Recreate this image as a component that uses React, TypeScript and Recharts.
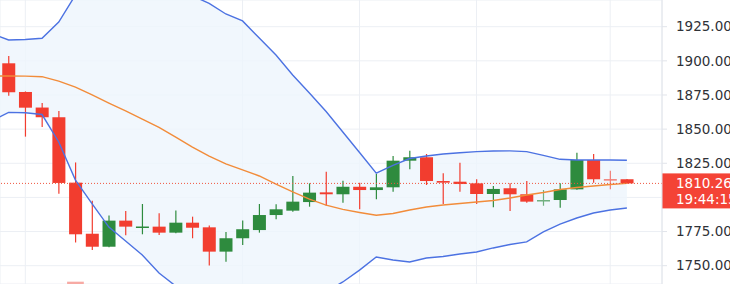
import { Area, Bar, CartesianGrid, ComposedChart, Line, ReferenceArea, ReferenceLine, XAxis, YAxis } from 'recharts';

// candle index -1 only carries indicator values (its candle is off the left edge)
const opens = [1898.2, 1877.2, 1865.8, 1858.7, 1810.8, 1773.4, 1763.9, 1783.0, 1778.5, 1778.6, 1774.2, 1781.5, 1778.1, 1760.3, 1770.1, 1776.1, 1787.1, 1790.3, 1796.6, 1803.7, 1802.3, 1807.8, 1805.4, 1807.4, 1826.9, 1829.4, 1812.0, 1811.5, 1810.3, 1802.5, 1806.7, 1802.3, 1798.0, 1798.1, 1805.9, 1827.4, 1813.4, 1813.3];
const highs = [1903.5, 1877.6, 1869.1, 1863.3, 1825.6, 1797.6, 1786.8, 1790.0, 1795.2, 1788.4, 1790.4, 1785.9, 1779.4, 1774.7, 1783.1, 1795.2, 1795.0, 1815.7, 1810.3, 1818.8, 1812.2, 1810.8, 1817.1, 1830.3, 1834.2, 1831.8, 1817.7, 1825.4, 1813.3, 1808.4, 1810.3, 1812.0, 1805.4, 1810.3, 1832.7, 1831.8, 1819.6, 1813.5];
const lows = [1874.5, 1844.5, 1851.6, 1802.7, 1767.0, 1761.5, 1763.5, 1772.3, 1773.0, 1772.5, 1773.7, 1770.1, 1750.1, 1752.9, 1765.2, 1774.2, 1784.0, 1789.5, 1793.2, 1793.9, 1796.1, 1791.3, 1798.6, 1804.2, 1820.6, 1809.1, 1795.2, 1804.2, 1795.2, 1792.8, 1790.1, 1796.1, 1793.9, 1792.5, 1805.6, 1810.8, 1805.9, 1810.0];
const closes = [1877.0, 1865.7, 1858.7, 1810.6, 1773.0, 1763.9, 1783.0, 1778.6, 1778.7, 1774.2, 1781.5, 1777.8, 1760.3, 1770.1, 1776.7, 1787.1, 1791.3, 1796.9, 1803.5, 1802.3, 1807.8, 1805.4, 1807.4, 1826.9, 1829.4, 1812.0, 1810.8, 1809.8, 1802.5, 1806.2, 1802.3, 1796.9, 1798.1, 1805.9, 1827.4, 1813.3, 1813.3, 1810.26];

// bollinger bands, from index -1 to 37
const upperBand = [1920.0, 1915.3, 1915.6, 1916.5, 1928.4, 1948.2, 1954.8, 1959.9, 1958.0, 1956.0, 1953.0, 1950.0, 1947.6, 1942.1, 1934.3, 1929.2, 1916.7, 1904.3, 1889.6, 1876.5, 1862.9, 1847.9, 1832.9, 1817.7, 1823.4, 1828.5, 1830.3, 1831.8, 1832.7, 1833.5, 1834.0, 1834.1, 1833.5, 1830.8, 1827.9, 1827.4, 1827.4, 1827.4, 1827.2];
const middleBand = [1888.9, 1888.9, 1888.8, 1888.4, 1885.2, 1880.8, 1875.0, 1869.1, 1863.3, 1857.4, 1851.2, 1844.2, 1836.9, 1830.3, 1824.5, 1820.1, 1815.7, 1809.8, 1804.0, 1798.8, 1794.4, 1791.2, 1789.0, 1786.9, 1788.2, 1790.8, 1793.0, 1794.4, 1795.5, 1796.6, 1797.7, 1799.6, 1801.8, 1803.6, 1805.8, 1807.3, 1808.4, 1809.5, 1810.3];
const lowerBand = [1856.0, 1862.3, 1862.0, 1860.7, 1840.6, 1812.7, 1795.2, 1778.3, 1768.1, 1757.8, 1744.7, 1735.1, 1728.0, 1722.0, 1718.0, 1716.0, 1716.0, 1718.0, 1721.0, 1726.0, 1731.0, 1738.1, 1746.8, 1756.4, 1754.2, 1752.7, 1755.6, 1756.7, 1758.6, 1760.0, 1763.0, 1765.5, 1767.4, 1774.7, 1780.5, 1784.9, 1788.6, 1790.8, 1792.2];

const priceTicks = [1750, 1775, 1800, 1825, 1850, 1875, 1900, 1925];
const timeTicks = [1, 14, 21, 28, 36];
const lastPrice = 1810.26;
const countdown = '19:44:15';
const volumeMark = { from: 3.5, to: 4.5, top: 1738.3 };

const Y_DOMAIN: [number, number] = [1736.6, 1944.55];
const X_DOMAIN: [number, number] = [-0.515, 39.1];
const AXIS_W = 68;

const UP = '#2e8b3e';
const DOWN = '#f23d2f';
const AXIS_COLOR = '#e1e4ea';
const FONT = '"DejaVu Sans", Verdana, sans-serif';

const data = upperBand.map((upper, k) => {
  const i = k - 1;
  const row: any = { i, upper, mid: middleBand[k], lower: lowerBand[k], band: [lowerBand[k], upper] };
  if (i >= 0) {
    row.open = opens[i];
    row.high = highs[i];
    row.low = lows[i];
    row.close = closes[i];
  }
  return row;
});

const Candle = (props: any) => {
  const { x, y, width, height, payload } = props;
  if (!payload || payload.open == null || height == null) return null;
  const { open, high, low, close } = payload;
  const doji = Math.abs(close - open) < 0.15;
  const color = close >= open ? UP : DOWN;
  const ratio = height / Math.max(high - low, 1e-6);
  const cx = x + width / 2;
  const bodyTop = y + (high - Math.max(open, close)) * ratio;
  const bodyH = Math.max(Math.abs(open - close) * ratio, 1.5);
  return (
    <g opacity={doji ? 0.65 : 1}>
      <line x1={cx} x2={cx} y1={y} y2={y + height} stroke={color} strokeWidth={1.2} />
      <rect x={x} y={bodyTop} width={width} height={bodyH} fill={color} />
    </g>
  );
};

// price labels hidden behind the last-price tag are skipped
const PriceTick = (props: any) => {
  const { x, y, payload } = props;
  if (Math.abs(payload.value - lastPrice) < 12) return null;
  return (
    <g>
      <line x1={x - 14} x2={x - 9} y1={y} y2={y} stroke={AXIS_COLOR} />
      <text x={x} y={y} dy="0.355em" fill="#2f3238" fontSize={13.5} fontFamily={FONT}>
        {Number(payload.value).toFixed(2)}
      </text>
    </g>
  );
};

const PriceTag = (props: any) => {
  const vb = props.viewBox || {};
  const left = (vb.x ?? 0) + (vb.width ?? 0);
  const top = (vb.y ?? 0) - 10;
  return (
    <g>
      <rect x={left} y={top} width={AXIS_W} height={35} fill="#f44336" />
      <text x={left + 14} y={top + 15} fill="#fff" fontSize={13.5} fontFamily={FONT}>
        {lastPrice.toFixed(2)}
      </text>
      <text x={left + 14} y={top + 31} fill="#fff" fontSize={13.5} fontFamily={FONT}>
        {countdown}
      </text>
    </g>
  );
};

export default function App() {
  return (
    <div style={{ position: 'fixed', left: 0, top: 0, width: 730, height: 284, background: '#fff', overflow: 'hidden' }}>
      <ComposedChart width={730} height={284} data={data} margin={{ top: 0, right: 0, bottom: 0, left: 0 }}>
        <CartesianGrid stroke="#eceff4" />
        <XAxis dataKey="i" type="number" domain={X_DOMAIN} allowDataOverflow ticks={timeTicks} hide />
        <YAxis
          orientation="right"
          domain={Y_DOMAIN}
          allowDataOverflow
          ticks={priceTicks}
          interval={0}
          width={AXIS_W}
          tickSize={5}
          tickMargin={9}
          stroke={AXIS_COLOR}
          tickLine={false}
          tick={<PriceTick />}
        />
        <Area dataKey="band" stroke="none" fill="#edf5fd" fillOpacity={0.8} isAnimationActive={false} />
        <Line dataKey="upper" stroke="#4c72e2" strokeWidth={1.4} dot={false} isAnimationActive={false} />
        <Line dataKey="lower" stroke="#4c72e2" strokeWidth={1.4} dot={false} isAnimationActive={false} />
        <Line dataKey="mid" stroke="#f28c3a" strokeWidth={1.4} dot={false} isAnimationActive={false} />
        <ReferenceArea
          x1={volumeMark.from}
          x2={volumeMark.to}
          y1={Y_DOMAIN[0]}
          y2={volumeMark.top}
          fill="#f7aaa4"
          fillOpacity={1}
          stroke="none"
        />
        <Bar
          dataKey={(d: any) => (d.open == null ? null : [d.low, d.high])}
          barSize={13}
          shape={<Candle />}
          isAnimationActive={false}
        />
        <ReferenceLine y={lastPrice} stroke="#f0553f" strokeDasharray="1 2" label={<PriceTag />} />
      </ComposedChart>
    </div>
  );
}
